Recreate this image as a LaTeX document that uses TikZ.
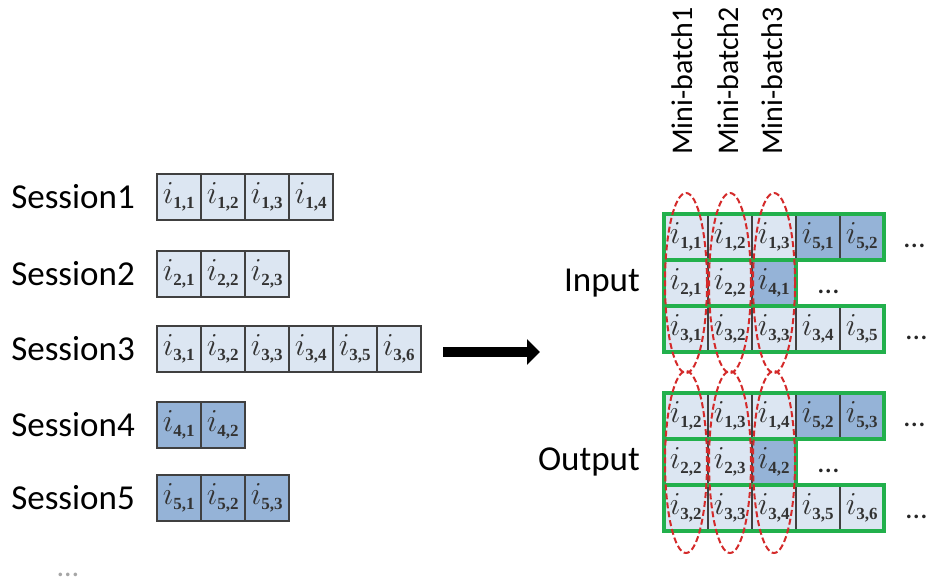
\documentclass[tikz,border=0pt]{standalone}
\usepackage{fix-cm}
\usepackage{fontspec}
\setmainfont{Carlito}
\newfontfamily\subfont{Liberation Serif}
\usetikzlibrary{positioning,fit,arrows.meta}

\definecolor{itemlight}{HTML}{DCE6F2}
\definecolor{itemdark}{HTML}{95B3D7}
\definecolor{rowgreen}{HTML}{22B04C}
\definecolor{batchred}{HTML}{D42A2A}

\newcommand{\itm}[2]{$i_{\mbox{\subfont\bfseries\fontsize{17}{17}\selectfont #1,#2}}$}

\begin{document}
\begin{tikzpicture}[
    x=1pt, y=-1pt,
    item/.style={rectangle, draw=black!75, line width=1.4pt, fill=itemlight, minimum width=44pt, minimum height=46pt, inner sep=0pt, outer sep=0pt, font=\fontsize{32}{34}\selectfont, text=black!80},
    itemd/.style={item, fill=itemdark},
    sess/.style={font=\fontsize{35}{40}\selectfont, text=black, inner sep=0pt},
    rowbox/.style={rectangle, draw=rowgreen, line width=4pt, inner sep=0pt},
    batch/.style={draw=batchred, line width=2pt, dash pattern=on 6pt off 3pt},
    mblabel/.style={rotate=90, anchor=west, font=\fontsize{30}{34}\selectfont, text=black, inner sep=0pt},
    more/.style={font=\fontsize{30}{34}\selectfont, text=black!85, inner sep=0pt, yshift=-9pt},
    bigarrow/.style={line width=10pt, -{Triangle[length=13pt, width=25pt]}}
]
\useasboundingbox (0,0) rectangle (926,584);
\clip (0,0) rectangle (926,584);

% Session 1
\node[item] (s1c1) at (179,197) {\itm{1}{1}};
\node[item, right=0pt of s1c1] (s1c2) {\itm{1}{2}};
\node[item, right=0pt of s1c2] (s1c3) {\itm{1}{3}};
\node[item, right=0pt of s1c3] (s1c4) {\itm{1}{4}};
\node[sess, left=22pt of s1c1] (sess1) {Session1};

% Session 2
\node[item] (s2c1) at (179,274) {\itm{2}{1}};
\node[item, right=0pt of s2c1] (s2c2) {\itm{2}{2}};
\node[item, right=0pt of s2c2] (s2c3) {\itm{2}{3}};
\node[sess, left=22pt of s2c1] (sess2) {Session2};

% Session 3
\node[item] (s3c1) at (179,349) {\itm{3}{1}};
\node[item, right=0pt of s3c1] (s3c2) {\itm{3}{2}};
\node[item, right=0pt of s3c2] (s3c3) {\itm{3}{3}};
\node[item, right=0pt of s3c3] (s3c4) {\itm{3}{4}};
\node[item, right=0pt of s3c4] (s3c5) {\itm{3}{5}};
\node[item, right=0pt of s3c5] (s3c6) {\itm{3}{6}};
\node[sess, left=22pt of s3c1] (sess3) {Session3};

% Session 4
\node[itemd] (s4c1) at (179,425) {\itm{4}{1}};
\node[itemd, right=0pt of s4c1] (s4c2) {\itm{4}{2}};
\node[sess, left=22pt of s4c1] (sess4) {Session4};

% Session 5
\node[itemd] (s5c1) at (179,498) {\itm{5}{1}};
\node[itemd, right=0pt of s5c1] (s5c2) {\itm{5}{2}};
\node[itemd, right=0pt of s5c2] (s5c3) {\itm{5}{3}};
\node[sess, left=22pt of s5c1] (sess5) {Session5};

\node[more, text=black!35] (moresess) at (68,566) {…};

% Arrow
\coordinate (arrS) at (443,352);
\coordinate (arrE) at (540,352);
\draw[bigarrow] (arrS) -- (arrE);

% Input
\node[item] (in1c1) at (686,237) {\itm{1}{1}};
\node[item, right=0pt of in1c1] (in1c2) {\itm{1}{2}};
\node[item, right=0pt of in1c2] (in1c3) {\itm{1}{3}};
\node[itemd, right=0pt of in1c3] (in1c4) {\itm{5}{1}};
\node[itemd, right=0pt of in1c4] (in1c5) {\itm{5}{2}};
\node[item, below=0pt of in1c1] (in2c1) {\itm{2}{1}};
\node[item, right=0pt of in2c1] (in2c2) {\itm{2}{2}};
\node[itemd, right=0pt of in2c2] (in2c3) {\itm{4}{1}};
\node[item, below=0pt of in2c1] (in3c1) {\itm{3}{1}};
\node[item, right=0pt of in3c1] (in3c2) {\itm{3}{2}};
\node[item, right=0pt of in3c2] (in3c3) {\itm{3}{3}};
\node[item, right=0pt of in3c3] (in3c4) {\itm{3}{4}};
\node[item, right=0pt of in3c4] (in3c5) {\itm{3}{5}};
\node[rowbox, fit=(in1c1)(in1c5)] (inrow1) {};
\node[rowbox, fit=(in2c1)(in2c3)] (inrow2) {};
\node[rowbox, fit=(in3c1)(in3c5)] (inrow3) {};
\node[sess, left=24pt of in2c1] (inlabel) {Input};
\node[more, right=20pt of in1c5] (inmore1) {…};
\node[more, right=22pt of in2c3] (inmore2) {…};
\node[more, right=22pt of in3c5] (inmore3) {…};

% Output
\node[item] (out1c1) at (686,416) {\itm{1}{2}};
\node[item, right=0pt of out1c1] (out1c2) {\itm{1}{3}};
\node[item, right=0pt of out1c2] (out1c3) {\itm{1}{4}};
\node[itemd, right=0pt of out1c3] (out1c4) {\itm{5}{2}};
\node[itemd, right=0pt of out1c4] (out1c5) {\itm{5}{3}};
\node[item, below=0pt of out1c1] (out2c1) {\itm{2}{2}};
\node[item, right=0pt of out2c1] (out2c2) {\itm{2}{3}};
\node[itemd, right=0pt of out2c2] (out2c3) {\itm{4}{2}};
\node[item, below=0pt of out2c1] (out3c1) {\itm{3}{2}};
\node[item, right=0pt of out3c1] (out3c2) {\itm{3}{3}};
\node[item, right=0pt of out3c2] (out3c3) {\itm{3}{4}};
\node[item, right=0pt of out3c3] (out3c4) {\itm{3}{5}};
\node[item, right=0pt of out3c4] (out3c5) {\itm{3}{6}};
\node[rowbox, fit=(out1c1)(out1c5)] (outrow1) {};
\node[rowbox, fit=(out2c1)(out2c3)] (outrow2) {};
\node[rowbox, fit=(out3c1)(out3c5)] (outrow3) {};
\node[sess, left=24pt of out2c1] (outlabel) {Output};
\node[more, right=20pt of out1c5] (outmore1) {…};
\node[more, right=22pt of out2c3] (outmore2) {…};
\node[more, right=22pt of out3c5] (outmore3) {…};

% Mini-batches
\draw[batch] (in2c1) ellipse [x radius=21pt, y radius=90pt];
\draw[batch] (in2c2) ellipse [x radius=21pt, y radius=90pt];
\draw[batch] (in2c3) ellipse [x radius=21pt, y radius=90pt];
\draw[batch] (out2c1) ellipse [x radius=21pt, y radius=91pt];
\draw[batch] (out2c2) ellipse [x radius=21pt, y radius=91pt];
\draw[batch] (out2c3) ellipse [x radius=21pt, y radius=91pt];
\node[mblabel] (mb1) at (682,155) {Mini-batch1};
\node[mblabel] (mb2) at (728,155) {Mini-batch2};
\node[mblabel] (mb3) at (772,155) {Mini-batch3};

\end{tikzpicture}
\end{document}
